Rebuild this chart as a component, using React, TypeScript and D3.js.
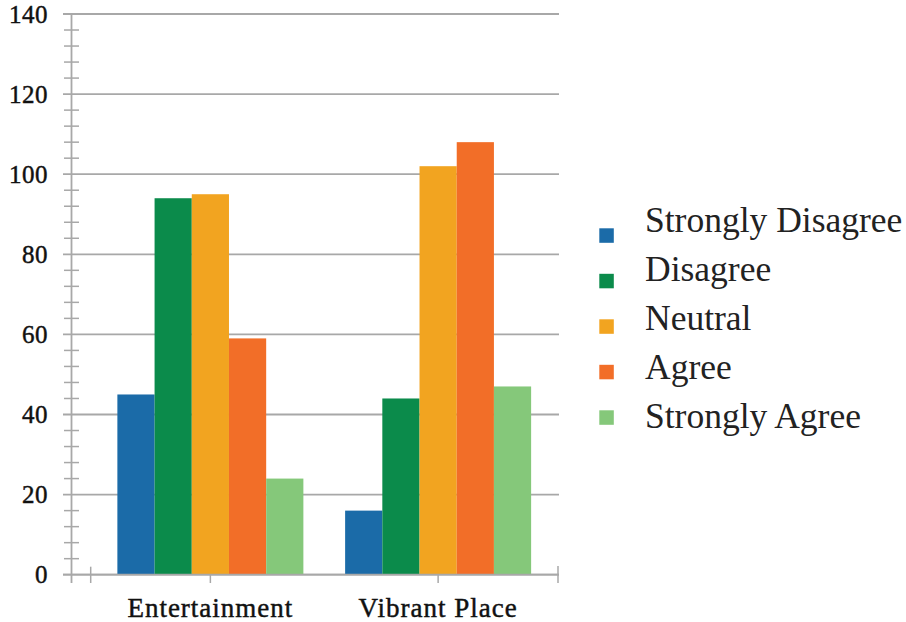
import React from "react";
import * as d3 from "d3";

const categories = ["Entertainment", "Vibrant Place"];
const seriesNames = ["Strongly Disagree", "Disagree", "Neutral", "Agree", "Strongly Agree"];
const seriesColors = ["#1b6ba8", "#0b8b4b", "#f2a420", "#f26e28", "#85c87a"];
const entertainmentValues = [45, 94, 95, 59, 24];
const vibrantPlaceValues = [16, 44, 102, 108, 47];
const valuesByCategory = [entertainmentValues, vibrantPlaceValues];
const yMajorTicks = [0, 20, 40, 60, 80, 100, 120, 140];

const W = 906;
const H = 622;
const plotLeft = 71.5;
const plotRight = 559;
const plotTop = 14;
const plotBottom = 574.7;
const gridColor = "#a8a8a8";
const serif = "Liberation Serif";

export default function App() {
  const y = d3.scaleLinear().domain([0, 140]).range([plotBottom, plotTop]);
  const x0 = d3.scaleBand<string>().domain(categories).range([96.5, 552]).padding(0);
  const groupInset = (x0.step() - 186) / 2;
  const x1 = d3
    .scaleBand<string>()
    .domain(seriesNames)
    .range([groupInset, x0.bandwidth() - groupInset])
    .padding(0);
  const minorTicks = d3.range(0, 141, 4).filter((v) => v % 20 !== 0);

  const legendSquare = d3.scaleLinear().domain([0, 4]).range([228.3, 410.3]);
  const legendText = d3.scaleLinear().domain([0, 4]).range([231.7, 428]);

  const axisLabelStyle = {
    fontFamily: serif,
    stroke: "#111",
    strokeWidth: "0.45px",
  };

  return (
    <svg
      width={W}
      height={H}
      style={{ position: "absolute", left: 0, top: 0, background: "#fff" }}
    >
      {/* horizontal gridlines at major ticks */}
      {yMajorTicks.map((t) => (
        <line
          key={"g" + t}
          x1={63}
          x2={plotRight}
          y1={y(t)}
          y2={y(t)}
          stroke={gridColor}
          strokeWidth={1.8}
        />
      ))}
      {/* minor ticks across the y axis */}
      {minorTicks.map((t) => (
        <line
          key={"m" + t}
          x1={64}
          x2={79}
          y1={y(t)}
          y2={y(t)}
          stroke={gridColor}
          strokeWidth={1.5}
        />
      ))}
      {/* y axis */}
      <line x1={plotLeft} x2={plotLeft} y1={plotTop} y2={583} stroke={gridColor} strokeWidth={1.8} />
      {/* x-axis ticks */}
      <line x1={90.7} x2={90.7} y1={plotBottom - 8} y2={583} stroke={gridColor} strokeWidth={1.5} />
      {categories.map((c) => (
        <line
          key={"xt" + c}
          x1={x0(c)! + x0.bandwidth() / 2}
          x2={x0(c)! + x0.bandwidth() / 2}
          y1={plotBottom}
          y2={583}
          stroke={gridColor}
          strokeWidth={1.5}
        />
      ))}
      <line x1={558} x2={558} y1={566} y2={583} stroke={gridColor} strokeWidth={1.5} />

      {/* bars */}
      {categories.map((c, ci) => (
        <g key={c} transform={`translate(${x0(c)},0)`}>
          {seriesNames.map((s, si) => {
            const v = valuesByCategory[ci][si];
            return (
              <rect
                key={s}
                x={x1(s)}
                y={y(v)}
                width={x1.bandwidth()}
                height={y(0) - y(v)}
                fill={seriesColors[si]}
              />
            );
          })}
        </g>
      ))}

      {/* x axis line */}
      <line x1={63} x2={plotRight} y1={plotBottom} y2={plotBottom} stroke={gridColor} strokeWidth={1.8} />

      {/* y tick labels */}
      {yMajorTicks.map((t) => (
        <text
          key={"yl" + t}
          x={48}
          y={y(t)}
          dy="0.35em"
          textAnchor="end"
          style={{ ...axisLabelStyle, fontSize: "25px", letterSpacing: "0.5px" }}
          fill="#111"
        >
          {t}
        </text>
      ))}

      {/* category labels */}
      {categories.map((c) => (
        <text
          key={"xl" + c}
          x={x0(c)! + x0.bandwidth() / 2}
          y={617}
          textAnchor="middle"
          style={{ ...axisLabelStyle, fontSize: "27px", letterSpacing: "1px" }}
          fill="#111"
        >
          {c}
        </text>
      ))}

      {/* legend */}
      {seriesNames.map((s, i) => (
        <g key={"lg" + s}>
          <rect x={599.3} y={legendSquare(i)} width={14.5} height={14.5} fill={seriesColors[i]} />
          <text
            x={645}
            y={legendText(i)}
            style={{ fontFamily: serif, fontSize: "35.5px" }}
            fill="#222"
          >
            {s}
          </text>
        </g>
      ))}
    </svg>
  );
}
